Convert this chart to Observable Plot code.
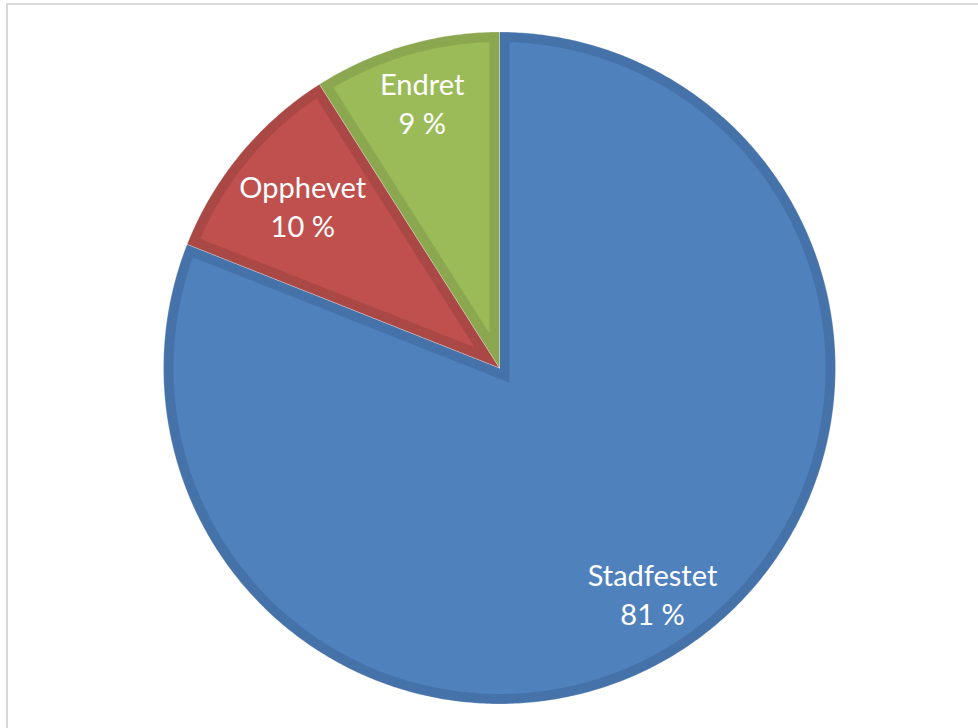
<!DOCTYPE html>
<html><head><meta charset="utf-8">
<script src="https://cdn.jsdelivr.net/npm/d3@7"></script>
<script src="https://cdn.jsdelivr.net/npm/@observablehq/plot@0.6"></script>
<style>
html,body{margin:0;padding:0;background:#fff;overflow:hidden;width:978px;height:728px}
#frame{position:absolute;left:6px;top:3px;width:990px;height:740px;border:2px solid #d9d9d9;box-sizing:border-box}
#chart{position:absolute;left:0;top:0}
</style>
</head><body><div id="frame"></div><div id="chart"></div>
<script>
// Data
const categories = ["Stadfestet", "Opphevet", "Endret"];
const percents = [81, 10, 9];
const fillColors = ["#4f81bd", "#c0504d", "#9bbb59"];
const borderColors = ["#4672aa", "#aa4846", "#8ba74f"];

// Layout
const W = 978, H = 728, cx = 499, cy = 367.5, R = 336;
const bw = 10 / R;            // border width in radius units
const labelRadius = {Stadfestet: 0.81, Opphevet: 0.76, Endret: 0.825};

const arcs = d3.pie().sort(null).value(d => d)(percents);
const pt = (r, a) => [r * Math.sin(a), r * Math.cos(a)];

const outer = [], inner = [], labels = [];
arcs.forEach((s, i) => {
  const a0 = s.startAngle, a1 = s.endAngle, th = a1 - a0;
  const n = Math.max(8, Math.ceil(th / (Math.PI / 360)));
  const o = [[0, 0]];
  for (let k = 0; k <= n; k++) o.push(pt(1, a0 + th * k / n));
  o.push([0, 0]);
  o.forEach(([x, y]) => outer.push({id: i, x, y, color: borderColors[i]}));
  const d = Math.asin(bw / (1 - bw));
  const m = pt(bw / Math.sin(th / 2), (a0 + a1) / 2);
  const q = [m];
  const b0 = a0 + d, b1 = a1 - d;
  for (let k = 0; k <= n; k++) q.push(pt(1 - bw, b0 + (b1 - b0) * k / n));
  q.push(m);
  q.forEach(([x, y]) => inner.push({id: i, x, y, color: fillColors[i]}));
  const lr = labelRadius[categories[i]];
  const [lx, ly] = pt(lr, (a0 + a1) / 2);
  labels.push({x: lx, y: ly, text: `${categories[i]}\n${percents[i]} %`});
});

const chart = Plot.plot({
  width: W, height: H,
  margin: 0,
  x: {domain: [-cx / R, (W - cx) / R], axis: null},
  y: {domain: [-(H - cy) / R, cy / R], axis: null},
  marks: [
    Plot.line(outer, {x: "x", y: "y", z: "id", fill: "color", stroke: "white", strokeOpacity: 0.25, strokeWidth: 1, curve: "linear"}),
    Plot.line(inner, {x: "x", y: "y", z: "id", fill: "color", stroke: "none", curve: "linear"}),
    Plot.text(labels, {x: "x", y: "y", text: "text", fill: "white", fontSize: 29, fontFamily: "Lato", lineHeight: 1.35})
  ]
});
chart.style.background = "transparent";
document.getElementById("chart").appendChild(chart);
</script>
</body></html>
